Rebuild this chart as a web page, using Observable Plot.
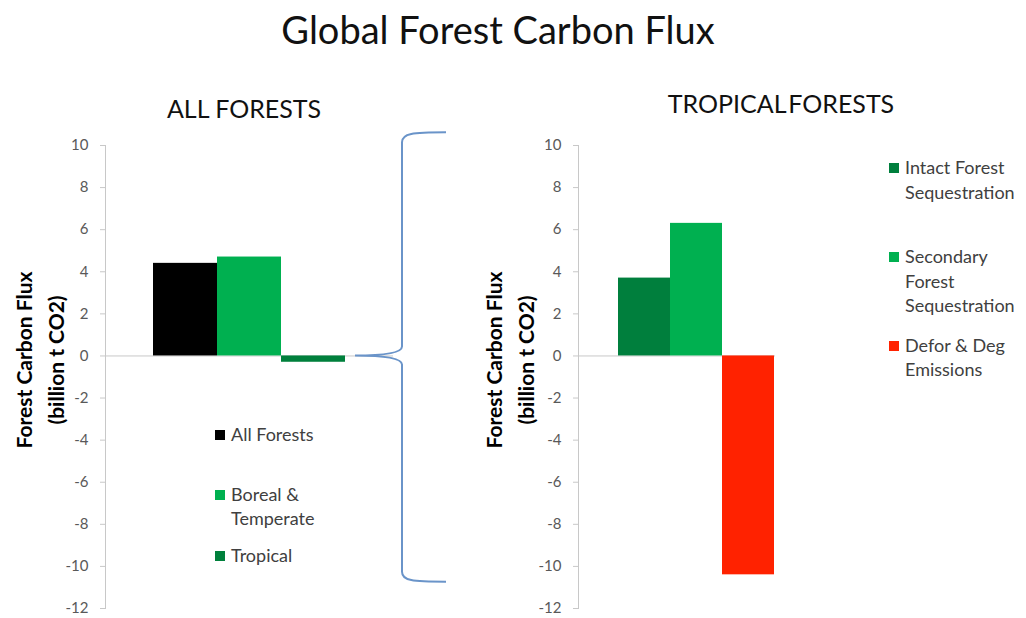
<!DOCTYPE html>
<html>
<head>
<meta charset="utf-8">
<script src="https://cdn.jsdelivr.net/npm/d3@7"></script>
<script src="https://cdn.jsdelivr.net/npm/@observablehq/plot@0.6"></script>
<style>
  html, body { margin: 0; padding: 0; background: #fff; }
  #wrap { position: relative; width: 1026px; height: 618px; overflow: hidden; font-family: Lato, "Open Sans", sans-serif; }
  #wrap > svg, #wrap > .plot { position: absolute; left: 0; }
  .legend { position: absolute; display: flex; flex-direction: column; font-size: 18px; line-height: 24.5px; color: #404040; }
  .legend .item { display: flex; align-items: flex-start; }
  .legend .sw { width: 10px; height: 10px; margin-top: 8px; margin-right: 6px; flex: none; }
</style>
</head>
<body>
<div id="wrap"></div>
<script>
// ---- data ----
const chartTitle = "Global Forest Carbon Flux";
const panelTitles = ["ALL FORESTS", "TROPICAL FORESTS"];
const yLabel = "Forest Carbon Flux\n(billion t CO2)";
const yDomain = [-12, 10];
const yTicks = [-12, -10, -8, -6, -4, -2, 0, 2, 4, 6, 8, 10];

const leftSeries = ["All Forests", "Boreal & Temperate", "Tropical"];
const leftValues = [4.4, 4.7, -0.3];
const leftColors = ["#000000", "#00b050", "#00803c"];

const rightSeries = ["Intact Forest Sequestration", "Secondary Forest Sequestration", "Defor & Deg Emissions"];
const rightValues = [3.7, 6.3, -10.4];
const rightColors = ["#007f3d", "#00b050", "#ff2200"];

// ---- layout ----
const W = 1026, TOP = 130, H = 488;
const wrap = document.getElementById("wrap");

function panel({series, values, colors, plotLeft, plotRight, barRange, labelDx, labelDy}) {
  const data = series.map((s, i) => ({series: s, value: values[i]}));
  return Plot.plot({
    width: W, height: H,
    marginTop: 15, marginBottom: 10,
    marginLeft: plotLeft, marginRight: W - plotRight,
    style: {background: "transparent", fontFamily: "Lato, 'Open Sans', sans-serif", overflow: "visible"},
    x: {domain: series, range: barRange, padding: 0, axis: null},
    y: {domain: yDomain, label: null},
    color: {domain: series, range: colors},
    marks: [
      Plot.ruleY([0], {stroke: "#c8c8c8", strokeWidth: 1}),
      Plot.frame({anchor: "left", stroke: "#c8c8c8"}),
      Plot.axisY({ticks: yTicks, tickFormat: d => String(d), tickSize: 5, tickPadding: 12, fontSize: 15, fill: "#595959", stroke: "#c8c8c8", label: null}),
      Plot.barY(data, {x: "series", y: "value", fill: "series"}),
      Plot.text([yLabel], {frameAnchor: "left", textAnchor: "middle", lineAnchor: "middle", rotate: -90, dx: labelDx, dy: labelDy,
        fontSize: 21, fontWeight: "bold", fill: "#000", lineHeight: 1.55})
    ]
  });
}

const leftChart = panel({series: leftSeries, values: leftValues, colors: leftColors,
  plotLeft: 105, plotRight: 393, barRange: [153, 345], labelDx: -68, labelDy: -17});
const rightChart = panel({series: rightSeries, values: rightValues, colors: rightColors,
  plotLeft: 578, plotRight: 775, barRange: [617, 774], labelDx: -71, labelDy: -17});
for (const c of [leftChart, rightChart]) { c.style.top = TOP + "px"; wrap.appendChild(c); }

// ---- overlay: titles and brace ----
const ov = d3.select(wrap).append("svg")
  .attr("width", W).attr("height", 618)
  .style("position", "absolute").style("left", 0).style("top", 0)
  .style("pointer-events", "none")
  .style("font-family", "Lato, 'Open Sans', sans-serif");

ov.append("text").attr("x", 498).attr("y", 44).attr("text-anchor", "middle")
  .attr("font-size", 38).attr("fill", "#111").text(chartTitle);
ov.append("text").attr("x", 244).attr("y", 118).attr("text-anchor", "middle")
  .attr("font-size", 25).attr("fill", "#111").text(panelTitles[0]);
ov.append("text").attr("x", 781).attr("y", 113).attr("text-anchor", "middle")
  .attr("font-size", 25).attr("fill", "#111").attr("word-spacing", "-4px").text(panelTitles[1]);

// brace linking the tropical bar to the tropical panel, placed from the left chart's scales
{
  const ys = leftChart.scale("y"), xs = leftChart.scale("x");
  const yv = v => TOP + ys.apply(v);
  const xr = xs.apply(leftSeries[leftSeries.length - 1]) + xs.bandwidth;
  const tip = xr + 10, stem = xr + 57, end = xr + 101;
  const yt = yv(10.6), yb = yv(-10.75), ym = yv(0);
  const p = d3.path();
  p.moveTo(end, yt);
  p.bezierCurveTo(stem + 10, yt, stem, yt + 1, stem, yt + 10);
  p.lineTo(stem, ym - 9);
  p.bezierCurveTo(stem, ym - 2, tip + 25, ym, tip, ym);
  p.bezierCurveTo(tip + 25, ym, stem, ym + 2, stem, ym + 9);
  p.lineTo(stem, yb - 10);
  p.bezierCurveTo(stem, yb - 1, stem + 10, yb, end, yb);
  ov.append("path").attr("d", p.toString()).attr("fill", "none")
    .attr("stroke", "#6a94c9").attr("stroke-width", 2);
}

// ---- legends ----
function legend(series, colors, left, top, textWidth, gaps) {
  const lg = d3.select(wrap).append("div").attr("class", "legend")
    .style("left", left + "px").style("top", top + "px");
  series.forEach((s, i) => {
    const it = lg.append("div").attr("class", "item").style("margin-top", (i ? gaps[i - 1] : 0) + "px");
    it.append("div").attr("class", "sw").style("background", colors[i]);
    it.append("div").style("width", textWidth + "px").text(s);
  });
}
legend(leftSeries, leftColors, 215, 422, 100, [35, 12]);
legend(rightSeries, rightColors, 889, 155, 125, [40, 15]);
</script>
</body>
</html>
